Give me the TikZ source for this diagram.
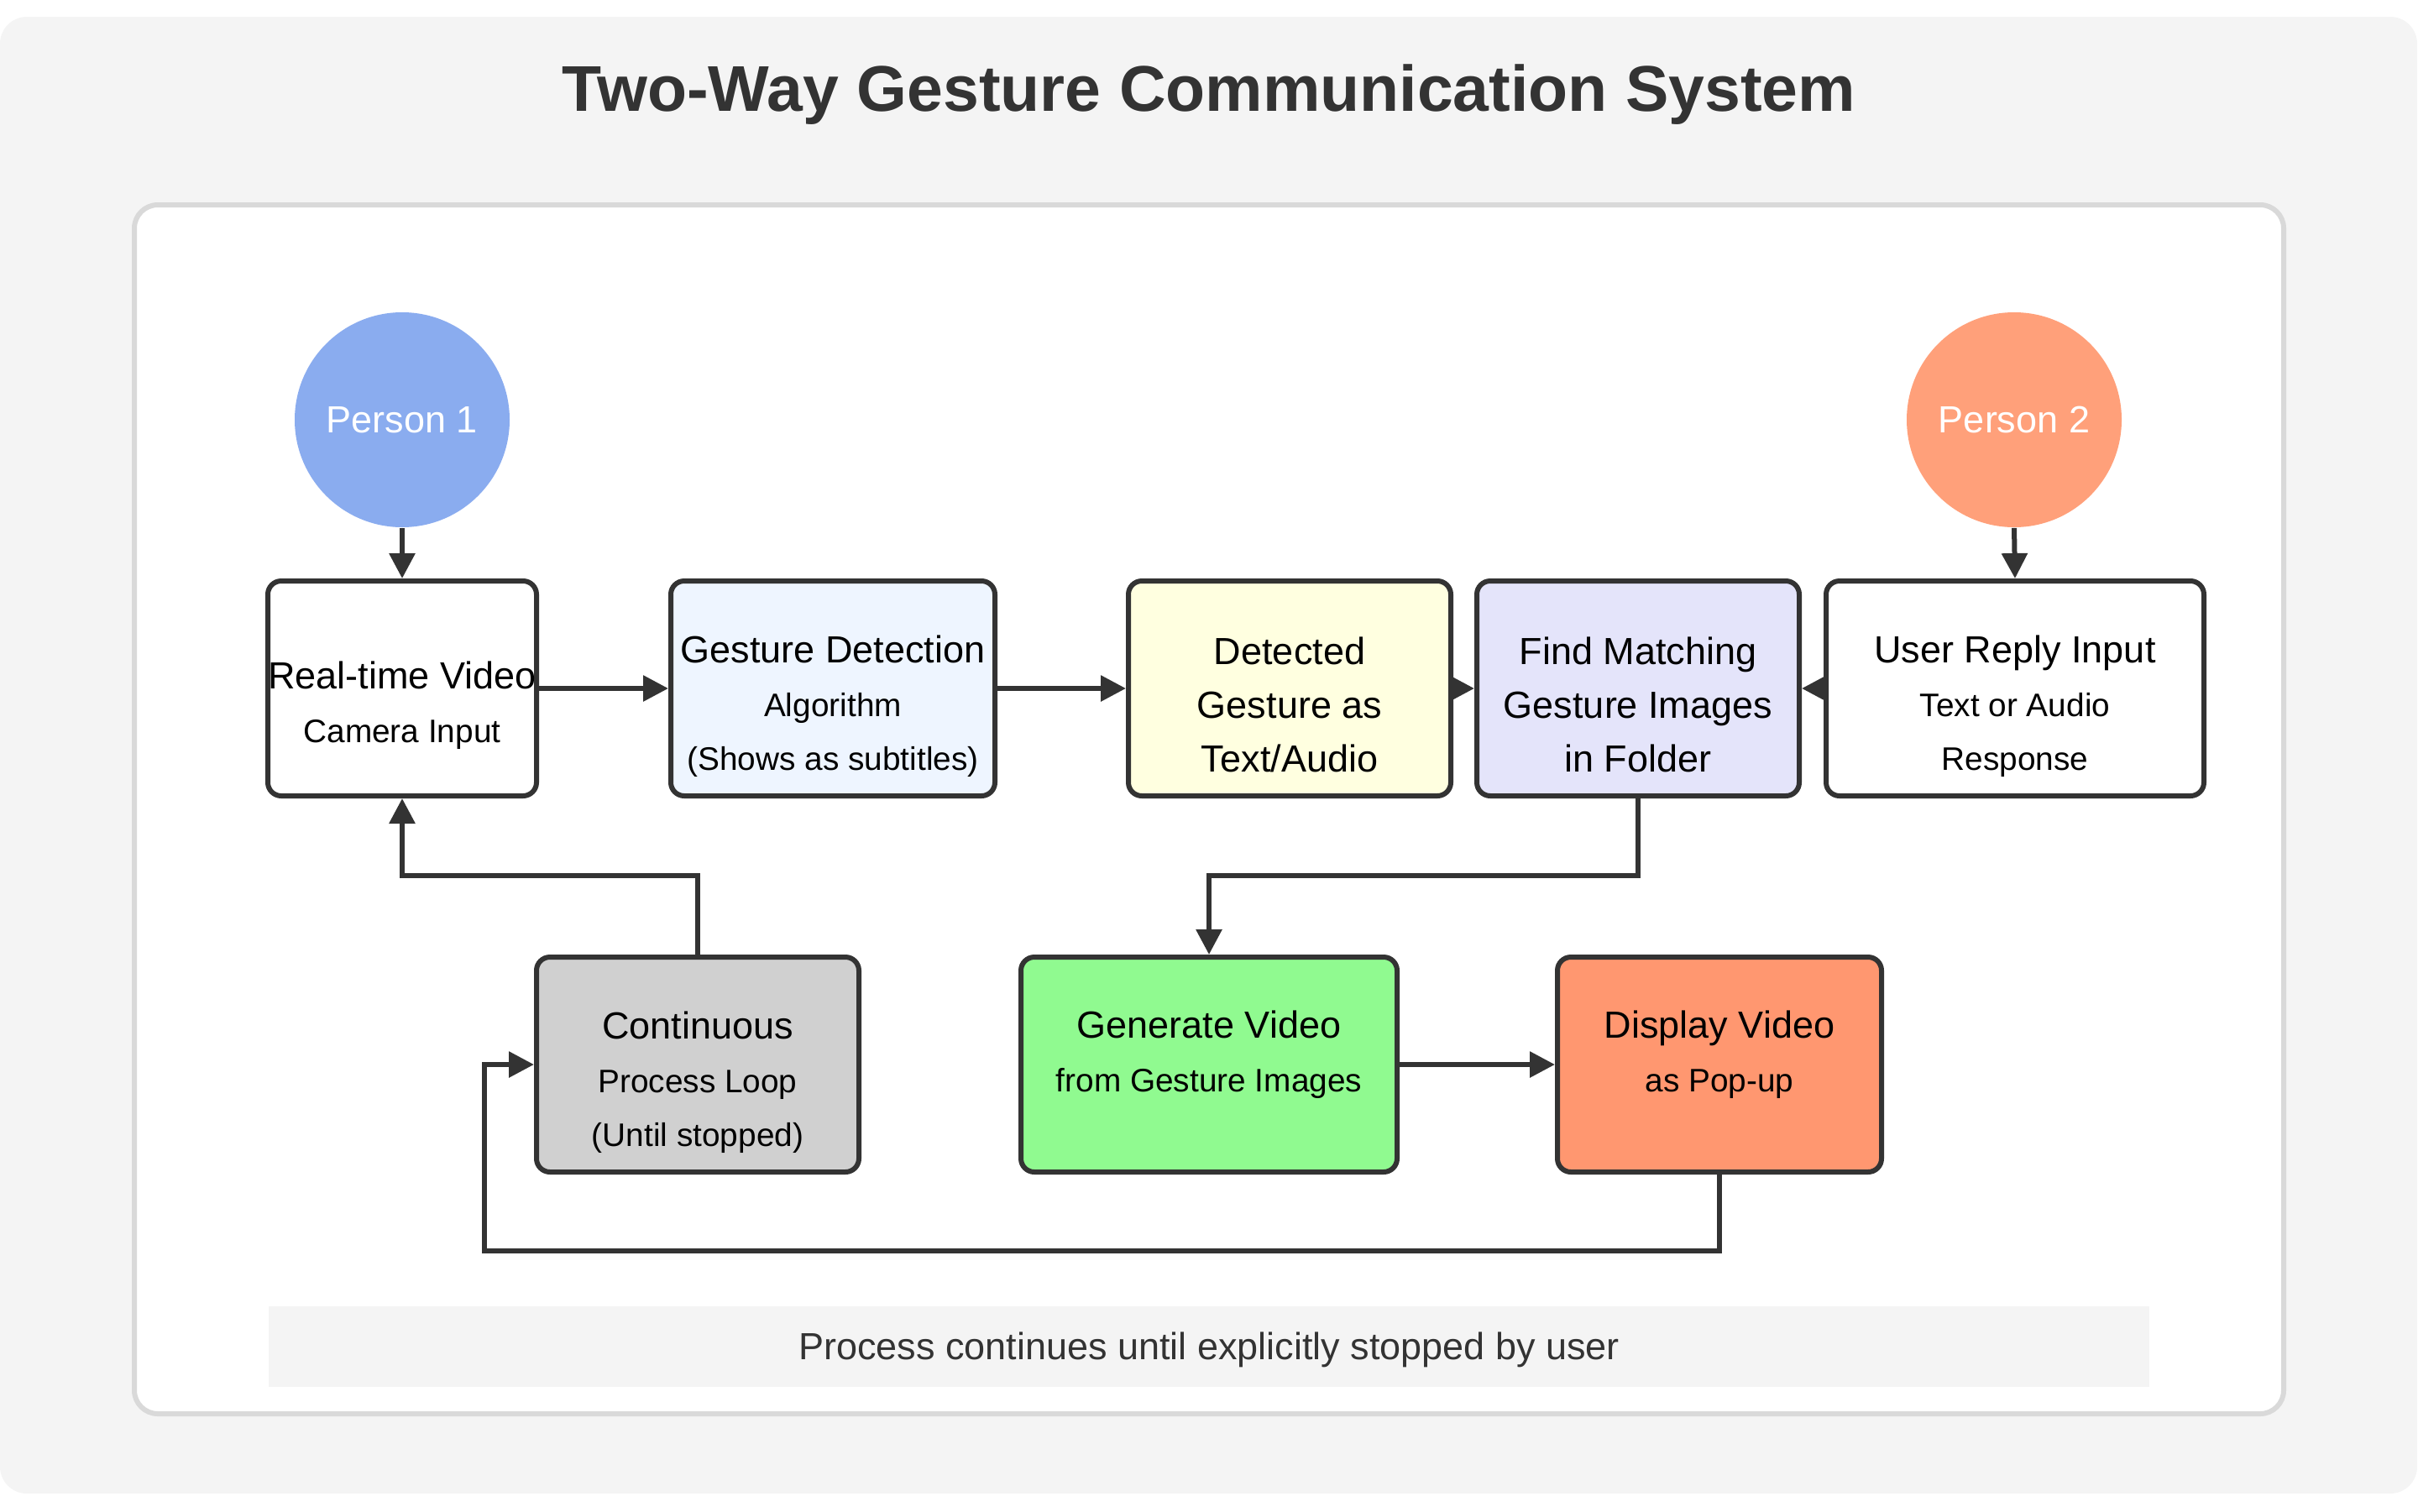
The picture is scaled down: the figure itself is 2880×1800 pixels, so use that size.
\documentclass[tikz,border=0pt]{standalone}
\usepackage{fontspec}
\setmainfont{Liberation Sans}
\usetikzlibrary{arrows.meta}
\definecolor{pagebg}{HTML}{F4F4F4}
\definecolor{panelline}{HTML}{D9D9D9}
\definecolor{edge}{HTML}{333333}
\definecolor{pone}{HTML}{8AACEF}
\definecolor{ptwo}{HTML}{FFA07A}
\definecolor{gdfill}{HTML}{EEF5FF}
\definecolor{detfill}{HTML}{FFFFE0}
\definecolor{fmfill}{HTML}{E4E4FA}
\definecolor{contfill}{HTML}{D0D0D0}
\definecolor{gvfill}{HTML}{90FA90}
\definecolor{dvfill}{HTML}{FF9770}
\newcommand\boxsub{\fontsize{9.7}{16}\selectfont}
\begin{document}
\begin{tikzpicture}[x=0.25pt,y=-0.25pt,
  box/.style={draw=edge, line width=1.5pt, rounded corners=4pt, minimum height=64pt, inner sep=0pt},
  txt/.style={align=center, font=\fontsize{11.25}{16}\selectfont, text=black, inner sep=0pt},
  person/.style={circle, minimum size=64pt, inner sep=0pt, text=white, font=\fontsize{11.25}{16}\selectfont},
  arrow/.style={draw=edge, line width=1.5pt, -{Triangle[length=7.5pt,width=7.5pt]}},
  line/.style={draw=edge, line width=1.5pt}]
\useasboundingbox (0,0) rectangle (2880,1800);
% backgrounds
\fill[pagebg, rounded corners=8pt] (0,20) rectangle (2879,1779);
\draw[fill=white, draw=panelline, line width=1.5pt, rounded corners=7pt] (160,244) rectangle (2720,1684);
% title
\node[anchor=base, font=\fontsize{19.25}{23}\selectfont\bfseries, text=edge] (title) at (1440,132) {Two-Way Gesture Communication System};
% persons
\node[person, fill=pone] (p1) at (479,500) {Person 1};
\node[person, fill=ptwo] (p2) at (2399,500) {Person 2};
% row 1 boxes
\node[box, fill=white, minimum width=80pt] (rtv) at (479,820) {};
\node[box, fill=gdfill, minimum width=96.5pt] (gd) at (992,820) {};
\node[box, fill=detfill, minimum width=96pt] (det) at (1536,820) {};
\node[box, fill=fmfill, minimum width=96pt] (fm) at (1951,820) {};
\node[box, fill=white, minimum width=112.5pt] (ur) at (2400,820) {};
% row 2 boxes
\node[box, fill=contfill, minimum width=96pt] (cont) at (831,1268) {};
\node[box, fill=gvfill, minimum width=112pt] (gv) at (1440,1268) {};
\node[box, fill=dvfill, minimum width=96.5pt] (dv) at (2048,1268) {};
% texts
\node[txt] (rtvt) at (479,840) {Real-time Video\\{\boxsub Camera Input}};
\node[txt] (gdt) at (992,841) {Gesture Detection\\{\boxsub Algorithm}\\{\boxsub (Shows as subtitles)}};
\node[txt] (dett) at (1536,839) {Detected\\Gesture as\\Text/Audio};
\node[txt] (fmt) at (1951,839) {Find Matching\\Gesture Images\\in Folder};
\node[txt] (urt) at (2400,841) {User Reply Input\\{\boxsub Text or Audio}\\{\boxsub Response}};
\node[txt] (contt) at (831,1289) {Continuous\\{\boxsub Process Loop}\\{\boxsub (Until stopped)}};
\node[txt] (gvt) at (1440,1256) {Generate Video\\{\boxsub from Gesture Images}};
\node[txt] (dvt) at (2048,1256) {Display Video\\{\boxsub as Pop-up}};
% footer
\node[fill=pagebg, minimum width=560pt, minimum height=24pt, inner sep=0pt] (foot) at (1440,1604) {};
\node[text=edge, font=\fontsize{11.25}{16}\selectfont, inner sep=0pt] (foott) at (1440,1608) {Process continues until explicitly stopped by user};
% junction coordinates
\coordinate (j1) at (1951,1043);
\coordinate (j2) at (577,1490);
\coordinate (j3) at (479,1043);
% connectors
\draw[arrow] (p1.south) -- (rtv.north);
\draw[arrow] (p2.south) -- (ur.north);
\draw[arrow] (rtv.east) -- (gd.west);
\draw[arrow] (gd.east) -- (det.west);
\draw[arrow] (det.east) -- (fm.west);
\draw[arrow] (ur.west) -- (fm.east);
\draw[arrow] (fm.south) -- (j1) -| (gv.north);
\draw[arrow] (gv.east) -- (dv.west);
\draw[arrow] (dv.south) |- (j2) |- (cont.west);
\draw[arrow] (cont.north) |- (j3) -- (rtv.south);
\end{tikzpicture}
\end{document}
